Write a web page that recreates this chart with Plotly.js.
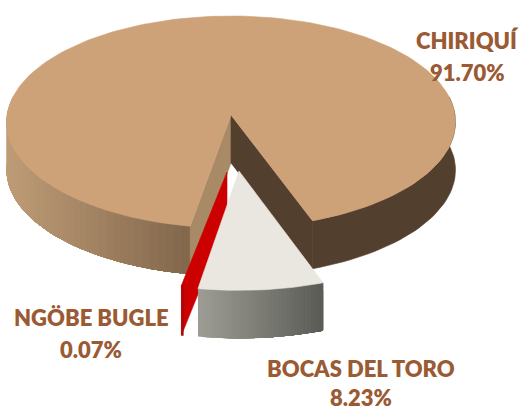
<!DOCTYPE html>
<html><head><meta charset="utf-8">
<script src="https://cdn.plot.ly/plotly-3.0.1.min.js"></script>
<style>html,body{margin:0;padding:0;background:#fff}#c{width:521px;height:412px}</style>
</head><body><div id="c"></div>
<script>
const categories = ["CHIRIQUÍ", "BOCAS DEL TORO", "NGÖBE BUGLE"];
const shares = [91.70, 8.23, 0.07];
const labelX = [467, 361, 91];
const labelY = [40, 368, 317];
const valueY = [72, 397, 349];
const startAngle = -9.85;
const textColor = "#9A5A33";

const deg = shares.map(v => v / 100 * 360);
const a0 = startAngle, a1 = a0 + deg[2], a2 = a1 + deg[1];
const main = {cx:231, cy:115, rx:224, ry:106, d:48};
const exploded = {cx:239, cy:171, rx:231, ry:112, d:48};
const redPie = {cx:227, cy:172, rx:250, ry:108, d:50};
const K = 0.066;
function P(g, a, dz){
  const t = a*Math.PI/180, u=Math.sin(t), v=Math.cos(t), s=1+K*v;
  return [g.cx+g.rx*u*s, g.cy+g.ry*v*s+(dz||0)];
}
function range(a,b,n){const o=[];for(let i=0;i<=n;i++)o.push(a+(b-a)*i/n);return o;}
const traces=[];
function poly(pts,color,w){
  traces.push({type:"scatter",mode:"lines",x:pts.map(p=>p[0]).concat(pts[0][0]),y:pts.map(p=>p[1]).concat(pts[0][1]),
    fill:"toself",fillcolor:color,line:{color:color,width:w===undefined?0.6:w},hoverinfo:"skip",showlegend:false});
}
function mix(c1,c2,t){return "rgb("+c1.map((c,i)=>Math.round(c+(c2[i]-c)*t)).join(",")+")";}
function rim(g,a,b,colorFn,n){
  const as=range(a,b,n);
  for(let i=0;i<n;i++){
    // each strip runs on to the end of the wall, so later strips paint over earlier seams
    const sub=range(as[i],b,Math.max(1,n-i));
    const top=sub.map(x=>P(g,x)), bot=sub.map(x=>P(g,x,g.d)).reverse();
    const col=colorFn(i/Math.max(1,n-1),(P(g,as[i])[0]+P(g,as[Math.min(n,i+1)])[0])/2);
    poly(top.concat(bot),col,0);
  }
}
// main piece: outer wall
rim(main,-100,a0,(t,x)=>mix([190,156,118],[130,103,76],Math.max(0,(x-7)/183)),45);
const rightSide=range(a2,100,40);
poly(rightSide.map(a=>P(main,a)).concat(rightSide.map(a=>P(main,a,main.d)).reverse()),"#533F2E");
// inner walls
poly([P(main,a0),[main.cx,main.cy],[main.cx,main.cy+main.d],P(main,a0,main.d)],"#A98A66");
poly([P(main,a2),[main.cx,main.cy],[main.cx,main.cy+main.d],P(main,a2,main.d)],"#533F2E");
// main top
const topPts=[[main.cx,main.cy]].concat(range(a2,360+a0,180).map(a=>P(main,a)));
poly(topPts,"#CEA279");
// thin exploded slice
poly([[redPie.cx,redPie.cy],P(redPie,a0),P(redPie,a0,redPie.d),[redPie.cx,redPie.cy+redPie.d]],"#CC0000");
poly([P(redPie,a0),P(redPie,a0+0.4),P(redPie,a0+0.4,redPie.d),P(redPie,a0,redPie.d)],"#A80808");
// exploded slice
rim(exploded,a1,a2,(t)=>mix([156,156,148],[92,92,87],t),30);
poly([[exploded.cx,exploded.cy]].concat(range(a1,a2,30).map(a=>P(exploded,a))),"#E9E7DF");

const annotations=[];
const labelFont={family:"Lato",size:22,color:textColor,weight:800};
categories.forEach((c,i)=>{
  annotations.push({xref:"x",yref:"y",x:labelX[i],y:labelY[i],showarrow:false,xanchor:"center",yanchor:"middle",
    text:c,font:labelFont});
  annotations.push({xref:"x",yref:"y",x:labelX[i],y:valueY[i],showarrow:false,xanchor:"center",yanchor:"middle",
    text:shares[i].toFixed(2)+"%",font:labelFont});
});
Plotly.newPlot("c",traces,{
  width:521,height:412,margin:{l:0,r:0,t:0,b:0},paper_bgcolor:"#fff",plot_bgcolor:"#fff",showlegend:false,
  xaxis:{range:[0,521],visible:false,fixedrange:true},
  yaxis:{range:[412,0],visible:false,fixedrange:true},
  annotations:annotations
},{staticPlot:true,displayModeBar:false});
</script></body></html>
